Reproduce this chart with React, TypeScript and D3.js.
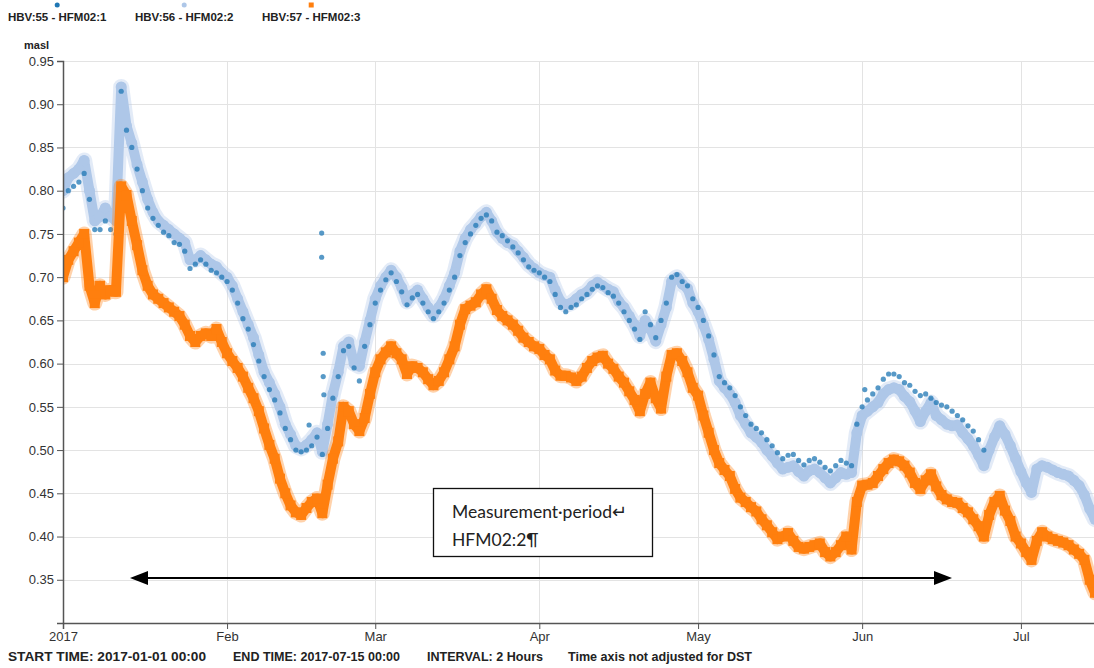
import { useEffect, useRef } from 'react';
import * as d3 from 'd3';

const startDate = new Date(2017, 0, 1);
const endDate = new Date(2017, 6, 15);

const seriesNames = ['HBV:55 - HFM02:1', 'HBV:56 - HFM02:2', 'HBV:57 - HFM02:3'];
const seriesColors = ['#1f77b4', '#aec7e8', '#ff7f0e'];

const yTicks = [0.35, 0.4, 0.45, 0.5, 0.55, 0.6, 0.65, 0.7, 0.75, 0.8, 0.85, 0.9, 0.95];

// daily level readings (masl), index = days since 2017-01-01
const hfm1 = [
  0.78, 0.80, 0.805, 0.81, 0.82, 0.79, 0.755, 0.755, 0.765, 0.755,
  0.75, 0.915, 0.87, 0.85, 0.825, 0.80, 0.78, 0.768, 0.76, 0.752,
  0.748, 0.74, 0.738, 0.73, 0.71, 0.715, 0.72, 0.715, 0.708, 0.705,
  0.70, 0.695, 0.685, 0.67, 0.652, 0.64, 0.622, 0.603, 0.585, 0.57,
  0.558, 0.543, 0.525, 0.512, 0.50, 0.498, 0.50, 0.505, 0.515, 0.495,
  0.525, 0.56, 0.585, 0.615, 0.62, 0.595, 0.58, 0.62, 0.645, 0.67,
  0.685, 0.697, 0.705, 0.695, 0.683, 0.668, 0.676, 0.68, 0.67, 0.66,
  0.652, 0.66, 0.67, 0.685, 0.70, 0.725, 0.74, 0.75, 0.76, 0.768,
  0.772, 0.765, 0.752, 0.748, 0.742, 0.735, 0.728, 0.72, 0.712, 0.708,
  0.705, 0.70, 0.695, 0.68, 0.665, 0.66, 0.665, 0.668, 0.675, 0.68,
  0.686, 0.69, 0.688, 0.682, 0.678, 0.67, 0.66, 0.65, 0.64, 0.628,
  0.66, 0.645, 0.63, 0.65, 0.67, 0.70, 0.703, 0.695, 0.69, 0.675,
  0.665, 0.65, 0.632, 0.61, 0.585, 0.578, 0.572, 0.563, 0.55, 0.54,
  0.53, 0.525, 0.52, 0.512, 0.505, 0.497, 0.49, 0.494, 0.495, 0.488,
  0.483, 0.488, 0.49, 0.486, 0.48, 0.476, 0.482, 0.488, 0.485, 0.482,
  0.53, 0.55, 0.558, 0.565, 0.572, 0.582, 0.588, 0.588, 0.585, 0.578,
  0.575, 0.568, 0.563, 0.565, 0.56, 0.555, 0.552, 0.55, 0.545, 0.54,
  0.535, 0.528, 0.522, 0.512, 0.50,
];
// stray HFM02:1 readings [day, masl]
const hfm1Strays = [
  [46.5, 0.529], [48.9, 0.751], [48.9, 0.723], [49.2, 0.612],
  [49.2, 0.585], [49.3, 0.564], [151.5, 0.57],
];
const hfm2 = [
  0.80, 0.815, 0.82, 0.825, 0.835, 0.80, 0.765, 0.77, 0.78, 0.77,
  0.765, 0.92, 0.875, 0.855, 0.83, 0.81, 0.79, 0.775, 0.765, 0.76,
  0.755, 0.75, 0.745, 0.74, 0.72, 0.72, 0.725, 0.72, 0.715, 0.712,
  0.705, 0.70, 0.69, 0.675, 0.66, 0.645, 0.63, 0.61, 0.59, 0.578,
  0.565, 0.55, 0.53, 0.518, 0.505, 0.502, 0.506, 0.512, 0.52, 0.498,
  0.53, 0.565, 0.59, 0.62, 0.625, 0.60, 0.597, 0.625, 0.65, 0.675,
  0.69, 0.70, 0.708, 0.70, 0.688, 0.672, 0.68, 0.685, 0.675, 0.665,
  0.656, 0.665, 0.675, 0.69, 0.705, 0.73, 0.745, 0.755, 0.762, 0.77,
  0.775, 0.765, 0.752, 0.745, 0.74, 0.737, 0.73, 0.723, 0.715, 0.71,
  0.705, 0.702, 0.70, 0.685, 0.672, 0.668, 0.67, 0.675, 0.68, 0.683,
  0.69, 0.694, 0.69, 0.686, 0.683, 0.672, 0.665, 0.655, 0.645, 0.632,
  0.65, 0.64, 0.626, 0.645, 0.665, 0.695, 0.70, 0.692, 0.687, 0.67,
  0.66, 0.645, 0.628, 0.605, 0.58, 0.572, 0.565, 0.555, 0.54, 0.53,
  0.52, 0.515, 0.509, 0.50, 0.493, 0.485, 0.478, 0.48, 0.482, 0.475,
  0.47, 0.476, 0.478, 0.474, 0.468, 0.462, 0.468, 0.474, 0.472, 0.474,
  0.52, 0.54, 0.545, 0.55, 0.555, 0.565, 0.57, 0.572, 0.57, 0.562,
  0.556, 0.545, 0.533, 0.545, 0.555, 0.54, 0.535, 0.53, 0.528, 0.529,
  0.52, 0.513, 0.505, 0.494, 0.482, 0.50, 0.515, 0.528, 0.518, 0.505,
  0.49, 0.475, 0.462, 0.451, 0.478, 0.482, 0.48, 0.477, 0.474, 0.472,
  0.47, 0.465, 0.459, 0.448, 0.432, 0.42,
];
const hfm3 = [
  0.70, 0.72, 0.73, 0.74, 0.75, 0.69, 0.67, 0.69, 0.68, 0.685,
  0.683, 0.805, 0.795, 0.765, 0.737, 0.708, 0.69, 0.68, 0.675, 0.67,
  0.665, 0.66, 0.655, 0.645, 0.632, 0.625, 0.632, 0.635, 0.632, 0.64,
  0.625, 0.612, 0.603, 0.595, 0.585, 0.572, 0.56, 0.545, 0.525, 0.506,
  0.49, 0.467, 0.45, 0.436, 0.428, 0.425, 0.433, 0.44, 0.444, 0.427,
  0.46, 0.49, 0.51, 0.55, 0.545, 0.53, 0.522, 0.537, 0.565, 0.59,
  0.605, 0.613, 0.62, 0.612, 0.605, 0.588, 0.597, 0.595, 0.59, 0.582,
  0.575, 0.58, 0.59, 0.605, 0.62, 0.645, 0.663, 0.667, 0.671, 0.68,
  0.686, 0.675, 0.662, 0.655, 0.65, 0.645, 0.638, 0.63, 0.625, 0.62,
  0.617, 0.61, 0.605, 0.592, 0.586, 0.586, 0.584, 0.58, 0.585, 0.595,
  0.603, 0.607, 0.609, 0.60, 0.594, 0.585, 0.578, 0.568, 0.558, 0.545,
  0.565, 0.578, 0.56, 0.548, 0.585, 0.61, 0.612, 0.603, 0.59, 0.572,
  0.563, 0.54, 0.52, 0.50, 0.485, 0.477, 0.47, 0.455, 0.445, 0.44,
  0.434, 0.429, 0.42, 0.413, 0.405, 0.397, 0.40, 0.404, 0.395, 0.388,
  0.386, 0.388, 0.39, 0.392, 0.382, 0.377, 0.382, 0.39, 0.40, 0.385,
  0.44, 0.459, 0.46, 0.462, 0.47, 0.478, 0.485, 0.489, 0.487, 0.482,
  0.474, 0.462, 0.455, 0.465, 0.472, 0.458, 0.448, 0.443, 0.44, 0.439,
  0.433, 0.428, 0.42, 0.412, 0.40, 0.425, 0.44, 0.447, 0.43, 0.418,
  0.40, 0.392, 0.382, 0.373, 0.395, 0.405, 0.40, 0.397, 0.395, 0.393,
  0.39, 0.385, 0.38, 0.373, 0.35, 0.335,
];

const footerTexts = [
  'START TIME: 2017-01-01 00:00',
  'END TIME: 2017-07-15 00:00',
  'INTERVAL: 2 Hours',
  'Time axis not adjusted for DST',
];
const footerX = [8, 233, 427, 568];
const footerW = [198, 167, 116, 184];
const noteLines = ['Measurement\u00b7period\u21b5', 'HFM02:2\u00b6'];

const W = 1094;
const H = 668;
const FONT = '"Liberation Sans", Arial, sans-serif';

type Pt = { date: Date; v: number };

function toPoints(values: number[]): Pt[] {
  return values.map((v, i) => ({ date: d3.timeDay.offset(startDate, i), v }));
}

function drawChart(el: SVGSVGElement) {
  const svg = d3.select(el);
  svg.selectAll('*').remove();

  const left = 63, right = 1095, top = 61, bottom = 623;

  const x = d3.scaleTime().domain([startDate, endDate]).range([left, right]);
  const y = d3.scaleLinear().domain([0.3, 0.95]).range([bottom, top]);

  svg.append('defs').append('clipPath').attr('id', 'plot-clip')
    .append('rect').attr('x', left).attr('y', top - 5).attr('width', W - left).attr('height', bottom - top + 5);

  // grid
  const grid = svg.append('g').attr('stroke', '#e3e3e3').attr('stroke-width', 1);
  grid.selectAll('line.h').data(yTicks).enter().append('line')
    .attr('x1', left).attr('x2', W)
    .attr('y1', (d) => Math.round(y(d)) + 0.5).attr('y2', (d) => Math.round(y(d)) + 0.5);
  const months = d3.timeMonth.range(startDate, endDate);
  grid.selectAll('line.v').data(months.slice(1)).enter().append('line')
    .attr('x1', (d) => Math.round(x(d)) + 0.5).attr('x2', (d) => Math.round(x(d)) + 0.5)
    .attr('y1', top).attr('y2', bottom);

  const band = d3.line<Pt>().x((d) => x(d.date)).y((d) => y(d.v));

  const plot = svg.append('g').attr('clip-path', 'url(#plot-clip)');

  // dense 2-hourly markers read as a band: soft halo + core stroke
  function drawBand(pts: Pt[], color: string, halo: number, core: number) {
    plot.append('path').datum(pts).attr('d', band).attr('fill', 'none')
      .attr('stroke', color).attr('stroke-width', halo).attr('stroke-opacity', 0.35)
      .attr('stroke-linejoin', 'round').attr('stroke-linecap', 'round');
    plot.append('path').datum(pts).attr('d', band).attr('fill', 'none')
      .attr('stroke', color).attr('stroke-width', core)
      .attr('stroke-linejoin', 'round').attr('stroke-linecap', 'round');
  }

  // HFM02:2 (light blue)
  const p2 = toPoints(hfm2);
  drawBand(p2, seriesColors[1], 16, 10);
  plot.append('g').selectAll('circle').data(p2).enter().append('circle')
    .attr('cx', (d) => x(d.date)).attr('cy', (d) => y(d.v)).attr('r', 5.5)
    .attr('fill', seriesColors[1]);

  // HFM02:1 (dark blue)
  const p1 = toPoints(hfm1);
  const strays = hfm1Strays.map(([day, v]) => ({ date: d3.timeHour.offset(startDate, day * 24), v }));
  plot.append('g').selectAll('circle').data(p1.concat(strays)).enter().append('circle')
    .attr('cx', (d) => x(d.date)).attr('cy', (d) => y(d.v)).attr('r', 2.6)
    .attr('fill', seriesColors[0]).attr('fill-opacity', 0.75);

  // HFM02:3 (orange)
  const p3 = toPoints(hfm3);
  drawBand(p3, seriesColors[2], 15, 10);
  plot.append('g').selectAll('rect').data(p3).enter().append('rect')
    .attr('x', (d) => x(d.date) - 5).attr('y', (d) => y(d.v) - 5)
    .attr('width', 10).attr('height', 10)
    .attr('fill', seriesColors[2]);

  // axes
  const fmtYear = d3.timeFormat('%Y');
  const fmtMonth = d3.timeFormat('%b');
  const xAxis = svg.append('g').attr('transform', `translate(0,${bottom})`)
    .call(d3.axisBottom(x).tickValues(months).tickFormat((d) => {
      const dt = d as Date;
      return dt.getMonth() === 0 ? fmtYear(dt) : fmtMonth(dt);
    }));
  const yAxis = svg.append('g').attr('transform', `translate(${left},0)`)
    .call(d3.axisLeft(y).tickValues(yTicks).tickFormat(d3.format('.2f')));

  [xAxis, yAxis].forEach((a) => {
    a.select('.domain').attr('stroke', '#555').attr('stroke-width', 1.5);
    a.selectAll('.tick line').attr('stroke', '#555');
    a.selectAll('.tick text').attr('fill', '#333').style('font-family', FONT).style('font-size', '13px');
  });

  svg.append('text').attr('x', 24).attr('y', 49)
    .style('font-family', FONT).style('font-size', '11px').style('font-weight', 'bold')
    .attr('fill', '#222').text('masl');

  // legend
  const legendX = [8, 135, 262];
  seriesNames.forEach((name, i) => {
    const t = svg.append('text').attr('x', legendX[i]).attr('y', 21)
      .style('font-family', FONT).style('font-size', '11.5px').style('font-weight', 'bold')
      .attr('fill', '#222').text(name);
    const w = (t.node() as SVGTextElement).getComputedTextLength();
    const cx = legendX[i] + w / 2;
    if (i < 2) {
      svg.append('circle').attr('cx', cx).attr('cy', 5).attr('r', 2.5).attr('fill', seriesColors[i]);
    } else {
      svg.append('rect').attr('x', cx - 2.5).attr('y', 2.5).attr('width', 5).attr('height', 5).attr('fill', seriesColors[i]);
    }
  });

  // footer
  footerTexts.forEach((txt, i) => {
    svg.append('text').attr('x', footerX[i]).attr('y', 661)
      .attr('textLength', footerW[i]).attr('lengthAdjust', 'spacingAndGlyphs')
      .style('font-family', FONT).style('font-size', '12.5px').style('font-weight', 'bold')
      .attr('fill', '#222').text(txt);
  });

  // measurement period note
  svg.append('rect').attr('x', 433.5).attr('y', 488.5).attr('width', 219).attr('height', 68)
    .attr('fill', '#fff').attr('stroke', '#111').attr('stroke-width', 1.3);
  noteLines.forEach((line, i) => {
    svg.append('text').attr('x', 452).attr('y', 518 + i * 28)
      .style('font-family', 'Lato, "Open Sans", sans-serif').style('font-size', '17.5px')
      .attr('fill', '#222').text(line);
  });

  const ay = 578;
  svg.append('line').attr('x1', 140).attr('x2', 942).attr('y1', ay).attr('y2', ay)
    .attr('stroke', '#000').attr('stroke-width', 2);
  svg.append('path').attr('d', `M130,${ay}L148,${ay - 7}L148,${ay + 7}Z`).attr('fill', '#000');
  svg.append('path').attr('d', `M952,${ay}L934,${ay - 7}L934,${ay + 7}Z`).attr('fill', '#000');
}

export default function App() {
  const ref = useRef<SVGSVGElement>(null);

  useEffect(() => {
    if (!ref.current) return;
    drawChart(ref.current);
  }, []);

  return (
    <svg
      ref={ref}
      width={W}
      height={H}
      style={{ position: 'absolute', left: 0, top: 0, display: 'block', background: '#fff' }}
    />
  );
}
